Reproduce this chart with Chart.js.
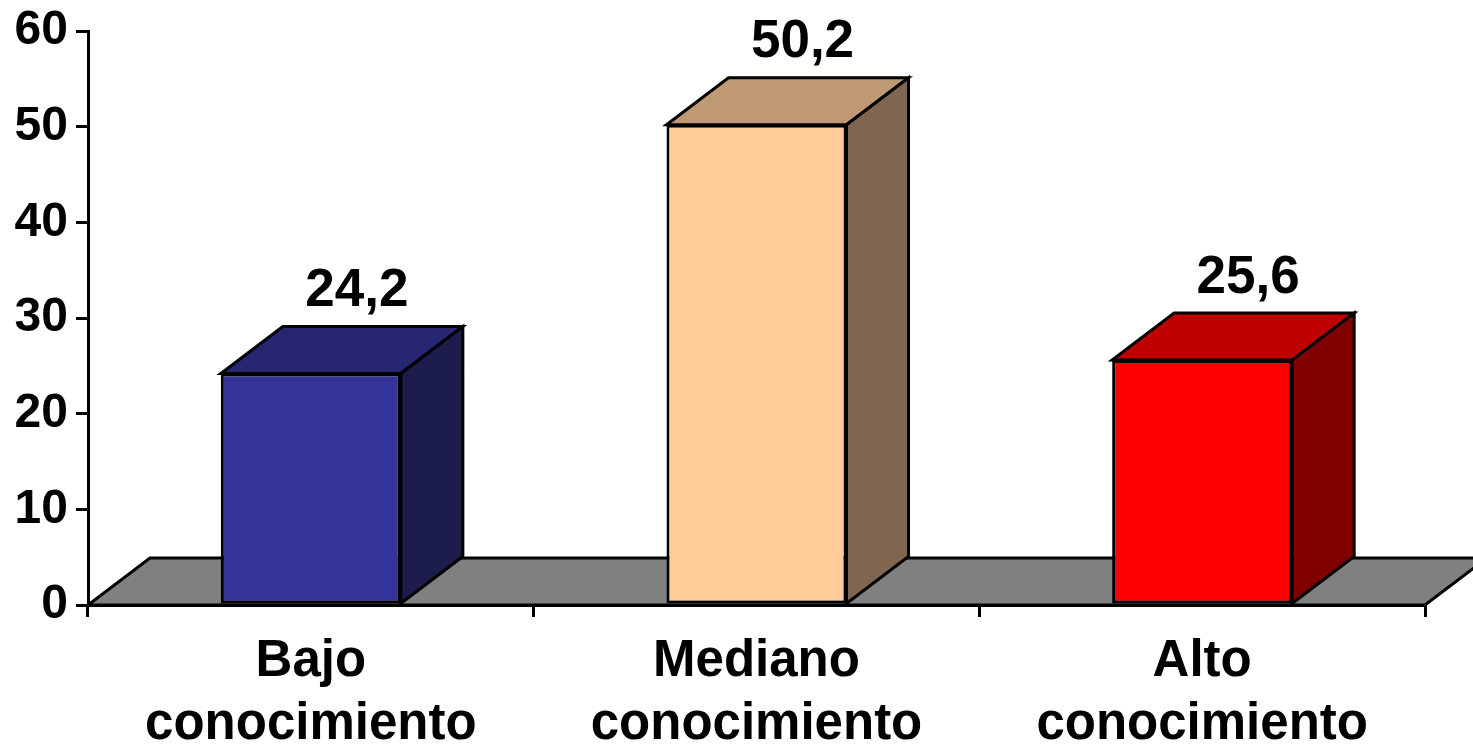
<!DOCTYPE html>
<html>
<head>
<meta charset="utf-8">
<script src="https://cdn.jsdelivr.net/npm/chart.js@4"></script>
<style>
    body { margin: 0; background: #fff; }
    #wrap { width: 1473px; height: 749px; }
</style>
</head>
<body>
<div id="wrap"><canvas id="levelChart"></canvas></div>
<script>
// Data
const categories = [['Bajo', 'conocimiento'], ['Mediano', 'conocimiento'], ['Alto', 'conocimiento']];
const percentages = [24.2, 50.2, 25.6];
const frontColors = ['#333399', '#FFCC99', '#FF0000'];
const topColors = ['#262673', '#BF9973', '#BF0000'];
const sideColors = ['#1C1C4D', '#806650', '#800000'];

const FONT = "'Liberation Sans', Arial, sans-serif";
const DEPTH_X = 62;
const DEPTH_Y = -47;

function poly(ctx, pts, fill) {
    ctx.beginPath();
    ctx.moveTo(pts[0][0], pts[0][1]);
    for (let i = 1; i < pts.length; i++) ctx.lineTo(pts[i][0], pts[i][1]);
    ctx.closePath();
    ctx.fillStyle = fill;
    ctx.fill();
    ctx.stroke();
}

// gray floor under the bars
const floorPlugin = {
    id: 'floor',
    beforeDatasetsDraw(chart) {
        const { ctx, chartArea } = chart;
        const b = chart.scales.y.getPixelForValue(0);
        ctx.save();
        ctx.strokeStyle = '#000';
        ctx.lineWidth = 3;
        ctx.lineJoin = 'miter';
        poly(ctx, [
            [chartArea.left, b],
            [chartArea.right, b],
            [chartArea.right + DEPTH_X, b + DEPTH_Y],
            [chartArea.left + DEPTH_X, b + DEPTH_Y]
        ], '#808080');
        ctx.restore();
    }
};

// top and side faces + value labels
const boxPlugin = {
    id: 'box3d',
    afterDatasetsDraw(chart) {
        const { ctx } = chart;
        const meta = chart.getDatasetMeta(0);
        ctx.save();
        ctx.strokeStyle = '#000';
        ctx.lineWidth = 3;
        ctx.lineJoin = 'miter';
        meta.data.forEach((bar, i) => {
            const l = bar.x - bar.width / 2;
            const r = bar.x + bar.width / 2;
            const t = bar.y;
            const base = bar.base;
            poly(ctx, [[l, t], [r, t], [r + DEPTH_X, t + DEPTH_Y], [l + DEPTH_X, t + DEPTH_Y]], topColors[i]);
            poly(ctx, [[r, t], [r + DEPTH_X, t + DEPTH_Y], [r + DEPTH_X, base + DEPTH_Y], [r, base]], sideColors[i]);

            ctx.fillStyle = '#000';
            ctx.font = 'bold 53px ' + FONT;
            ctx.textAlign = 'center';
            ctx.textBaseline = 'middle';
            ctx.fillText(String(percentages[i]).replace('.', ','), bar.x + 46, t + DEPTH_Y - 35);
        });
        ctx.restore();
    }
};

new Chart(document.getElementById('levelChart'), {
    type: 'bar',
    data: {
        labels: categories,
        datasets: [{
            data: percentages,
            backgroundColor: frontColors,
            borderColor: '#000',
            borderWidth: 3,
            borderSkipped: false,
            barPercentage: 0.404,
            categoryPercentage: 1
        }]
    },
    options: {
        responsive: true,
        maintainAspectRatio: false,
        animation: false,
        layout: { padding: { top: 31, right: 48, left: 0, bottom: 0 } },
        plugins: {
            legend: { display: false },
            tooltip: { enabled: false }
        },
        scales: {
            x: {
                offset: true,
                afterFit: scale => { scale.height = 144; },
                grid: {
                    offset: true,
                    drawOnChartArea: false,
                    tickLength: 12,
                    color: '#000',
                    lineWidth: 3
                },
                border: { color: '#000', width: 3 },
                ticks: {
                    color: '#000',
                    padding: 13,
                    maxRotation: 0,
                    font: { family: FONT, size: 51, weight: 'bold', lineHeight: 1.24 }
                }
            },
            y: {
                min: 0,
                max: 60,
                afterFit: scale => {
                    scale.width = 88;
                    scale.paddingTop = 0;
                    scale.paddingBottom = 0;
                },
                grid: {
                    drawOnChartArea: false,
                    tickLength: 12,
                    color: '#000',
                    lineWidth: 3
                },
                border: { color: '#000', width: 3 },
                ticks: {
                    stepSize: 10,
                    color: '#000',
                    padding: 8,
                    font: { family: FONT, size: 48, weight: 'bold' }
                }
            }
        }
    },
    plugins: [floorPlugin, boxPlugin]
});
</script>
</body>
</html>
